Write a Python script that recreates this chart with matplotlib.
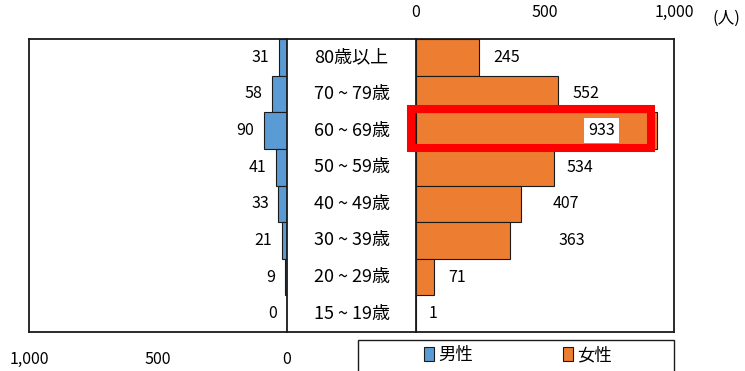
import matplotlib.pyplot as plt
from matplotlib.patches import Rectangle, Patch

plt.rcParams['font.family'] = ['Noto Sans CJK JP', 'DejaVu Sans']

# 年齢階級（上から）
age_groups = ['80歳以上', '70 ~ 79歳', '60 ~ 69歳', '50 ~ 59歳',
              '40 ~ 49歳', '30 ~ 39歳', '20 ~ 29歳', '15 ~ 19歳']
male = [31, 58, 90, 41, 33, 21, 9, 0]
female = [245, 552, 933, 534, 407, 363, 71, 1]
ticks = [0, 500, 1000]
tick_labels = ['0', '500', '1,000']

BLUE = '#5B9BD5'
ORANGE = '#ED7D31'
EDGE = '#1a1a1a'

W, H = 745, 371
fig = plt.figure(figsize=(W / 100, H / 100), dpi=100)


def fx(px):
    return px / W


def fy(px):
    return 1 - px / H


top, bottom = 39, 332
xl, xm1, xm2, xr = 29, 287, 416, 674
ax_l = fig.add_axes([fx(xl), fy(bottom), fx(xm1 - xl), fy(top) - fy(bottom)])
ax_m = fig.add_axes([fx(xm1), fy(bottom), fx(xm2 - xm1), fy(top) - fy(bottom)])
ax_r = fig.add_axes([fx(xm2), fy(bottom), fx(xr - xm2), fy(top) - fy(bottom)])

n = len(age_groups)
ypos = list(range(n))

for ax in (ax_l, ax_m, ax_r):
    ax.set_ylim(n - 0.5, -0.5)
    ax.set_yticks([])
    for s in ax.spines.values():
        s.set_linewidth(1.3)
        s.set_color(EDGE)

# 男性（左、反転軸）
ax_l.barh(ypos, male, height=1.0, color=BLUE, edgecolor=EDGE, linewidth=0.8)
ax_l.set_xlim(1000, 0)
ax_l.spines['right'].set_visible(False)
ax_l.set_xticks(ticks)
ax_l.set_xticklabels(tick_labels)
ax_l.tick_params(axis='x', length=0, pad=14, labelsize=11.5)
for y, v in zip(ypos, male):
    ax_l.annotate(str(v), (v, y), xytext=(-7, 0), textcoords='offset points',
                  ha='right', va='center', fontsize=11.5)

# 年齢ラベル（中央）
ax_m.set_xlim(0, 1)
ax_m.set_xticks([])
for y, g in zip(ypos, age_groups):
    ax_m.text(0.5, y, g, ha='center', va='center', fontsize=13)

# 女性（右）
ax_r.barh(ypos, female, height=1.0, color=ORANGE, edgecolor=EDGE, linewidth=0.8)
ax_r.set_xlim(0, 1000)
ax_r.spines['left'].set_visible(False)
ax_r.xaxis.tick_top()
ax_r.set_xticks(ticks)
ax_r.set_xticklabels(tick_labels)
ax_r.tick_params(axis='x', length=0, pad=13, labelsize=11.5)
label_pad = [10, 10, None, 9, 23, 35, 10, 9]
for y, v, p in zip(ypos, female, label_pad):
    if p is None:
        ax_r.annotate(str(v), (v, y), xytext=(-40, 0), textcoords='offset points',
                      ha='center', va='center', fontsize=11.5,
                      bbox=dict(boxstyle='square,pad=0.25', fc='white', ec='none'))
    else:
        ax_r.annotate(str(v), (v, y), xytext=(p, 0), textcoords='offset points',
                      ha='left', va='center', fontsize=11.5)

# 60〜69歳の強調枠
hi = age_groups.index('60 ~ 69歳')
ax_r.add_patch(Rectangle((-19, hi - 0.58), 930, 1.05, fill=False,
                         edgecolor='#FF0000', linewidth=5.8, clip_on=False, zorder=5))

fig.text(fx(712), fy(18), '(人)', ha='left', va='center', fontsize=12)

# 凡例
fig.patches.append(Rectangle((fx(358), fy(390)), fx(674 - 358), fy(340) - fy(390),
                             transform=fig.transFigure, fill=False,
                             edgecolor=EDGE, linewidth=1.0))
handles = [Patch(facecolor=BLUE, edgecolor=EDGE, linewidth=0.8, label='男性'),
           Patch(facecolor=ORANGE, edgecolor=EDGE, linewidth=0.8, label='女性')]
fig.legend(handles=handles, ncol=2, frameon=False, loc='center',
           bbox_to_anchor=(fx(518), fy(355)), fontsize=12.5,
           handlelength=0.55, handleheight=0.9, handletextpad=0.25,
           columnspacing=5.2)

fig.savefig('out.png', dpi=100)
